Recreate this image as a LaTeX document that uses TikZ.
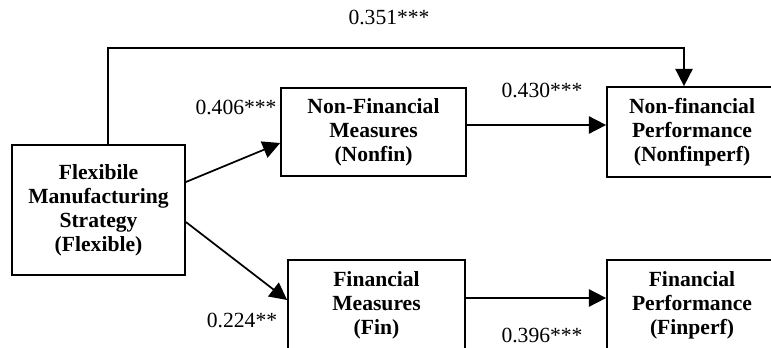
\documentclass[tikz,border=0pt]{standalone}
\usepackage{fontspec}
\setmainfont{Liberation Serif}
\usetikzlibrary{arrows.meta}
\tikzset{
    varbox/.style={draw,line width=1.3pt,align=center,font=\fontsize{16.2}{18}\selectfont\bfseries,inner sep=0pt},
    coef/.style={font=\fontsize{16.2}{18}\selectfont},
    arr/.style={line width=1.3pt,-{Triangle[length=13pt,width=13pt]}}
}
\begin{document}
    \begin{tikzpicture}[x=0.75pt,y=-0.75pt]
        \clip (0,0) rectangle (771,347);
        \fill[white] (0,0) rectangle (771,347);
        \node[varbox,minimum width=129.75pt,minimum height=97.5pt] (flex) at (98.5,210) {Flexibile\\Manufacturing\\Strategy\\(Flexible)};
        \node[varbox,minimum width=138.75pt,minimum height=66pt] (nonfin) at (373.5,132) {Non-Financial\\Measures\\(Nonfin)};
        \node[varbox,minimum width=127.5pt,minimum height=67.5pt] (nonfinperf) at (692,132) {Non-financial\\Performance\\(Nonfinperf)};
        \node[varbox,minimum width=132.75pt,minimum height=67.5pt] (fin) at (376.5,305) {Financial\\Measures\\(Fin)};
        \node[varbox,minimum width=127.5pt,minimum height=67.5pt] (finperf) at (692,305) {Financial\\Performance\\(Finperf)};
        \coordinate (top) at (0,48);
        % paths
        \draw[arr] ([yshift=21pt]flex.east) -- ([yshift=-8.25pt]nonfin.west);
        \draw[arr] ([yshift=-9pt]flex.east) -- ([yshift=3.75pt]fin.west);
        \draw[arr] ([yshift=5.25pt]nonfin.east) coordinate (a) -- (a -| nonfinperf.west);
        \draw[arr] ([yshift=5.25pt]fin.east) coordinate (b) -- (b -| finperf.west);
        \draw[arr] ([xshift=7pt]flex.north) coordinate (s) -- (s |- top) -| ([xshift=-6pt]nonfinperf.north);
        % coefficients
        \node[coef] (c1) at (389,17) {0.351***};
        \node[coef] (c2) at (236,107) {0.406***};
        \node[coef] (c3) at (542,90) {0.430***};
        \node[coef] (c4) at (242,320) {0.224**};
        \node[coef] (c5) at (542,335) {0.396***};
    \end{tikzpicture}
\end{document}
